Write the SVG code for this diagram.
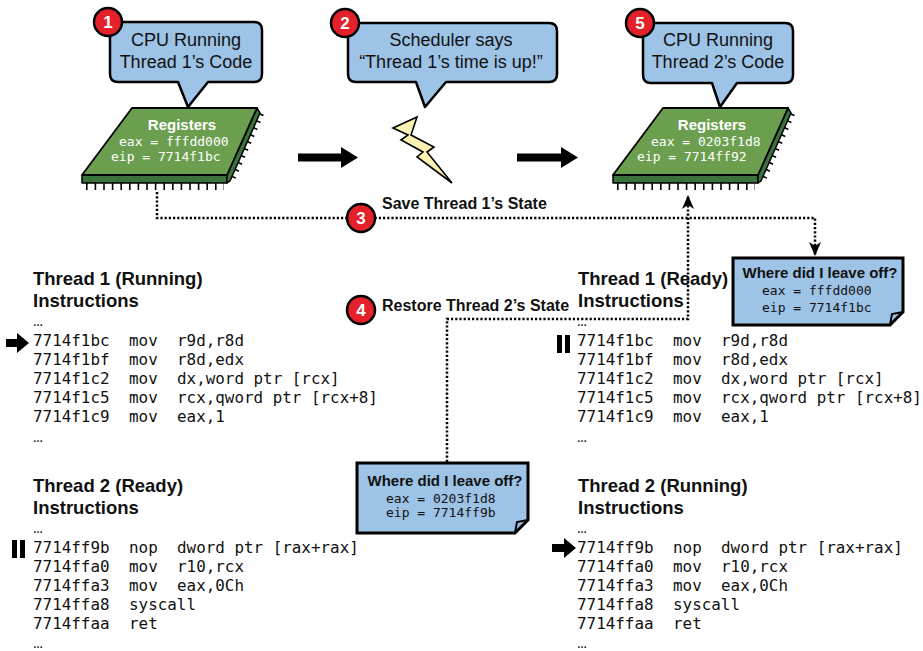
<svg xmlns="http://www.w3.org/2000/svg" width="923" height="651" viewBox="0 0 923 651">
  <style>
    .bubble { fill: #9dc3e6; stroke: #000; stroke-width: 2.5; stroke-linejoin: round; }
    .btxt { font-family: "Liberation Sans", Arial, sans-serif; font-size: 18px; text-anchor: middle; fill: #111; }
    .badge circle { fill: #e4212a; stroke: #000; stroke-width: 2.5; }
    .badge text { font-family: "Liberation Sans", Arial, sans-serif; font-weight: bold; font-size: 17px; fill: #fff; text-anchor: middle; }
    .chip-top { fill: #6b9f4f; stroke: #000; stroke-width: 1.8; stroke-linejoin: round; }
    .chip-side { fill: #3b733c; stroke: #000; stroke-width: 1.5; stroke-linejoin: round; }
    .pins { stroke: #000; fill: none; }
    .reg { font-family: "Liberation Sans", Arial, sans-serif; font-weight: bold; font-size: 15px; fill: #fff; text-anchor: middle; }
    .regv { font-family: "DejaVu Sans Mono", monospace; font-size: 13px; fill: #fff; }
    .bolt { fill: #fdf2b3; stroke: #000; stroke-width: 1.6; stroke-linejoin: miter; }
    .flow { fill: #000; }
    .dotted { fill: none; stroke: #000; stroke-width: 2.5; stroke-dasharray: 2.2 2; }
    .label { font-family: "Liberation Sans", Arial, sans-serif; font-weight: bold; font-size: 16px; fill: #111; }
    .note { fill: #9dc3e6; stroke: #000; stroke-width: 3; stroke-linejoin: miter; }
    .fold { fill: none; stroke: #000; stroke-width: 2; }
    .nhead { font-family: "Liberation Sans", Arial, sans-serif; font-weight: bold; font-size: 15px; fill: #111; text-anchor: middle; }
    .nval { font-family: "DejaVu Sans Mono", monospace; font-size: 13px; fill: #111; }
    .head { font-family: "Liberation Sans", Arial, sans-serif; font-weight: bold; font-size: 18.5px; fill: #111; }
    .code { font-family: "DejaVu Sans Mono", monospace; font-size: 15.9px; fill: #111; }
    .ell { font-family: "Liberation Sans", Arial, sans-serif; font-weight: bold; font-size: 10px; fill: #111; }
  </style>
  <defs>
    <marker id="ah" viewBox="0 0 14 12" refX="14" refY="6" markerWidth="14" markerHeight="12" orient="auto" markerUnits="userSpaceOnUse">
      <path d="M0,0 L14,6 L0,12 L4,6 Z" fill="#000"/>
    </marker>
    <g id="chip">
      <!-- pins along the front edge and the right side -->
      <line class="pins" x1="86" y1="186.5" x2="224" y2="186.5" stroke-width="7" stroke-dasharray="1.6 7"/>
      <line class="pins" x1="262" y1="114" x2="232" y2="182" stroke-width="4" stroke-dasharray="1.6 6"/>
      <polygon class="chip-side" points="82,175 227,175 227,183 82,183"/>
      <polygon class="chip-side" points="257,108 260,113 230,181 227,183 227,175"/>
      <polygon class="chip-top" points="132,108 257,108 227,175 82,175"/>
    </g>
  </defs>

  <!-- connectors -->
  <g id="connectors">
    <polygon class="flow" points="298,153.5 341,153.5 341,147 358,157.5 341,168 341,161.5 298,161.5"/>
    <polygon class="flow" points="517,153.5 561,153.5 561,147 578,157.5 561,168 561,161.5 517,161.5"/>
    <path class="dotted" d="M157,192 V218 H815 V256" marker-end="url(#ah)"/>
    <path class="dotted" d="M447,462 V319 H688 V195" marker-end="url(#ah)"/>
  </g>

  <!-- step 1: CPU running thread 1 -->
  <g id="bubble1">
    <path class="bubble" d="M118,22 H254 Q262,22 262,30 V74 Q262,82 254,82 H208 L188,107 L178,82 H118 Q110,82 110,74 V30 Q110,22 118,22 Z"/>
    <text class="btxt" x="186" y="46">CPU Running</text>
    <text class="btxt" x="186" y="68">Thread 1’s Code</text>
    <g class="badge"><circle cx="108" cy="22" r="14"/><text x="108" y="28">1</text></g>
  </g>

  <g id="chip1">
    <use href="#chip"/>
    <text class="reg" x="182" y="130">Registers</text>
    <text class="regv" x="119" y="146">eax = fffdd000</text>
    <text class="regv" x="111" y="161">eip = 7714f1bc</text>
  </g>

  <!-- step 2: scheduler interrupt -->
  <g id="bubble2">
    <path class="bubble" d="M356,23 H549 Q557,23 557,31 V74 Q557,82 549,82 H446 L425,107 L416,82 H356 Q348,82 348,74 V31 Q348,23 356,23 Z"/>
    <text class="btxt" x="451" y="46">Scheduler says</text>
    <text class="btxt" x="451" y="68">“Thread 1’s time is up!”</text>
    <g class="badge"><circle cx="345" cy="23" r="14"/><text x="345" y="29">2</text></g>
  </g>

  <g id="interrupt">
    <polygon class="bolt" points="393,128 417,117 411,135 434,147 427,152 452,183 417,157 423,152 401,140 408,135"/>
  </g>

  <!-- step 5: CPU running thread 2 -->
  <g id="bubble5">
    <path class="bubble" d="M651,23 H785 Q793,23 793,31 V75 Q793,83 785,83 H737 L720,107 L712,83 H651 Q643,83 643,75 V31 Q643,23 651,23 Z"/>
    <text class="btxt" x="718" y="46">CPU Running</text>
    <text class="btxt" x="718" y="68">Thread 2’s Code</text>
    <g class="badge"><circle cx="640" cy="23" r="14"/><text x="640" y="29">5</text></g>
  </g>

  <g id="chip2">
    <use href="#chip" transform="translate(531,0)"/>
    <text class="reg" x="712" y="130">Registers</text>
    <text class="regv" x="651" y="146">eax = 0203f1d8</text>
    <text class="regv" x="637" y="161">eip = 7714ff92</text>
  </g>

  <!-- step 3 / step 4 labels -->
  <g id="step3">
    <g class="badge"><circle cx="361" cy="218" r="14"/><text x="361" y="224">3</text></g>
    <text class="label" x="382" y="209">Save Thread 1’s State</text>
  </g>
  <g id="step4">
    <g class="badge"><circle cx="361" cy="310" r="14"/><text x="361" y="316">4</text></g>
    <text class="label" x="382" y="311">Restore Thread 2’s State</text>
  </g>

  <!-- saved contexts -->
  <g id="note1">
    <path class="note" d="M733,258 H903 V312 L890,325 H733 Z"/>
    <path class="fold" d="M890,325 L892,314 L903,312"/>
    <text class="nhead" x="820" y="278">Where did I leave off?</text>
    <text class="nval" x="762" y="295">eax = fffdd000</text>
    <text class="nval" x="762" y="312">eip = 7714f1bc</text>
  </g>
  <g id="note2">
    <path class="note" d="M357,463 H528 V520 L515,533 H357 Z"/>
    <path class="fold" d="M515,533 L517,522 L528,520"/>
    <text class="nhead" x="445" y="486">Where did I leave off?</text>
    <text class="nval" x="386" y="503">eax = 0203f1d8</text>
    <text class="nval" x="386" y="517">eip = 7714ff9b</text>
  </g>

  <!-- thread 1, running -->
  <g id="t1-running">
    <text class="head" x="33" y="285">Thread 1 (Running)</text>
    <text class="head" x="33" y="307">Instructions</text>
    <text class="ell" x="33" y="326">…</text>
    <polygon class="flow" points="6,339 17,339 17,333 29,343 17,353 17,347 6,347"/>
    <g class="code">
      <text y="346"><tspan x="33">7714f1bc</tspan><tspan x="129">mov</tspan><tspan x="177">r9d,r8d</tspan></text>
      <text y="365"><tspan x="33">7714f1bf</tspan><tspan x="129">mov</tspan><tspan x="177">r8d,edx</tspan></text>
      <text y="384"><tspan x="33">7714f1c2</tspan><tspan x="129">mov</tspan><tspan x="177">dx,word ptr [rcx]</tspan></text>
      <text y="403"><tspan x="33">7714f1c5</tspan><tspan x="129">mov</tspan><tspan x="177">rcx,qword ptr [rcx+8]</tspan></text>
      <text y="422"><tspan x="33">7714f1c9</tspan><tspan x="129">mov</tspan><tspan x="177">eax,1</tspan></text>
    </g>
    <text class="ell" x="33" y="442">…</text>
  </g>

  <!-- thread 2, ready -->
  <g id="t2-ready">
    <text class="head" x="33" y="492">Thread 2 (Ready)</text>
    <text class="head" x="33" y="514">Instructions</text>
    <text class="ell" x="33" y="533">…</text>
    <rect x="12" y="540" width="5" height="18" fill="#000"/>
    <rect x="20" y="540" width="5" height="18" fill="#000"/>
    <g class="code">
      <text y="553"><tspan x="33">7714ff9b</tspan><tspan x="129">nop</tspan><tspan x="177">dword ptr [rax+rax]</tspan></text>
      <text y="572"><tspan x="33">7714ffa0</tspan><tspan x="129">mov</tspan><tspan x="177">r10,rcx</tspan></text>
      <text y="591"><tspan x="33">7714ffa3</tspan><tspan x="129">mov</tspan><tspan x="177">eax,0Ch</tspan></text>
      <text y="610"><tspan x="33">7714ffa8</tspan><tspan x="129">syscall</tspan></text>
      <text y="629"><tspan x="33">7714ffaa</tspan><tspan x="129">ret</tspan></text>
    </g>
    <text class="ell" x="33" y="648">…</text>
  </g>

  <!-- thread 1, ready -->
  <g id="t1-ready">
    <text class="head" x="578" y="285">Thread 1 (Ready)</text>
    <text class="head" x="578" y="307">Instructions</text>
    <text class="ell" x="577" y="326">…</text>
    <rect x="557" y="335" width="5" height="18" fill="#000"/>
    <rect x="565" y="335" width="5" height="18" fill="#000"/>
    <g class="code">
      <text y="346"><tspan x="577">7714f1bc</tspan><tspan x="673">mov</tspan><tspan x="721">r9d,r8d</tspan></text>
      <text y="365"><tspan x="577">7714f1bf</tspan><tspan x="673">mov</tspan><tspan x="721">r8d,edx</tspan></text>
      <text y="384"><tspan x="577">7714f1c2</tspan><tspan x="673">mov</tspan><tspan x="721">dx,word ptr [rcx]</tspan></text>
      <text y="403"><tspan x="577">7714f1c5</tspan><tspan x="673">mov</tspan><tspan x="721">rcx,qword ptr [rcx+8]</tspan></text>
      <text y="422"><tspan x="577">7714f1c9</tspan><tspan x="673">mov</tspan><tspan x="721">eax,1</tspan></text>
    </g>
    <text class="ell" x="577" y="442">…</text>
  </g>

  <!-- thread 2, running -->
  <g id="t2-running">
    <text class="head" x="578" y="492">Thread 2 (Running)</text>
    <text class="head" x="578" y="514">Instructions</text>
    <text class="ell" x="577" y="533">…</text>
    <polygon class="flow" points="552,544 564,544 564,538 576,548 564,558 564,552 552,552"/>
    <g class="code">
      <text y="553"><tspan x="577">7714ff9b</tspan><tspan x="673">nop</tspan><tspan x="721">dword ptr [rax+rax]</tspan></text>
      <text y="572"><tspan x="577">7714ffa0</tspan><tspan x="673">mov</tspan><tspan x="721">r10,rcx</tspan></text>
      <text y="591"><tspan x="577">7714ffa3</tspan><tspan x="673">mov</tspan><tspan x="721">eax,0Ch</tspan></text>
      <text y="610"><tspan x="577">7714ffa8</tspan><tspan x="673">syscall</tspan></text>
      <text y="629"><tspan x="577">7714ffaa</tspan><tspan x="673">ret</tspan></text>
    </g>
    <text class="ell" x="577" y="648">…</text>
  </g>
</svg>
